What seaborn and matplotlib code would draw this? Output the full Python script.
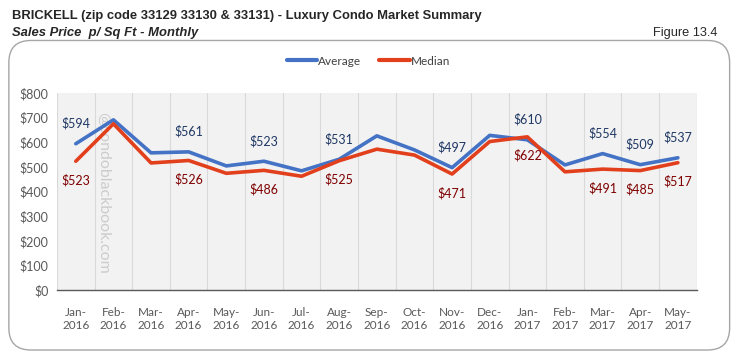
import numpy as np
import pandas as pd
import seaborn as sns
import matplotlib.pyplot as plt
from matplotlib.patches import FancyBboxPatch

months = ["Jan-\n2016", "Feb-\n2016", "Mar-\n2016", "Apr-\n2016", "May-\n2016", "Jun-\n2016",
          "Jul-\n2016", "Aug-\n2016", "Sep-\n2016", "Oct-\n2016", "Nov-\n2016", "Dec-\n2016",
          "Jan-\n2017", "Feb-\n2017", "Mar-\n2017", "Apr-\n2017", "May-\n2017"]
average = [594, 691, 557, 561, 504, 523, 484, 531, 626, 569, 497, 628, 610, 508, 554, 509, 537]
median = [523, 675, 516, 526, 474, 486, 462, 525, 572, 548, 471, 603, 622, 480, 491, 485, 517]
# months that carry a data label in the original
labelled = [0, 3, 5, 7, 10, 12, 14, 15, 16]

sns.set_theme(style="white")
plt.rcParams['font.family'] = ['Lato', 'DejaVu Sans']

df = pd.DataFrame({"idx": list(range(len(months))) * 2,
                   "value": average + median,
                   "series": ["Average"] * len(months) + ["Median"] * len(months)})

blue = "#4472c4"
red = "#e2401c"
head_font = ['Liberation Sans', 'DejaVu Sans']

fig = plt.figure(figsize=(7.37, 3.55), dpi=100)
fig.patch.set_facecolor("white")

frame = FancyBboxPatch((0.012, 0.014), 0.978, 0.872, boxstyle="round,pad=0,rounding_size=0.03",
                       transform=fig.transFigure, facecolor="white", edgecolor="#a6a6a6",
                       linewidth=1.0, mutation_aspect=737 / 355, zorder=-5)
fig.patches.append(frame)

fig.text(0.016, 0.955, "BRICKELL (zip code 33129 33130 & 33131) - Luxury Condo Market Summary",
         family=head_font, weight="bold", size=9.4, va="center")
fig.text(0.016, 0.907, "Sales Price  p/ Sq Ft - Monthly",
         family=head_font, weight="bold", style="italic", size=9.4, va="center")
fig.text(0.974, 0.907, "Figure 13.4", family=head_font, size=9.2, ha="right", va="center")

ax = fig.add_axes([0.0773, 0.183, 0.868, 0.555])
ax.set_zorder(2)
ax.set_facecolor("#f2f2f2")

sns.lineplot(data=df, x="idx", y="value", hue="series", palette=[blue, red],
             linewidth=2.6, ax=ax, legend=True)

for i in labelled:
    ax.annotate(f"${average[i]}", (i, average[i]), xytext=(0, 10), textcoords="offset points",
                ha="center", va="bottom", color="#1f3864", fontsize=9)
    ax.annotate(f"${median[i]}", (i, median[i]), xytext=(0, -9), textcoords="offset points",
                ha="center", va="top", color="#7f0000", fontsize=9)

ax.set_xlim(-0.5, len(months) - 0.5)
ax.set_ylim(0, 800)
ax.set_yticks(range(0, 801, 100))
ax.set_yticklabels([f"${v}" for v in range(0, 801, 100)])
ax.set_xticks(range(len(months)))
ax.set_xticklabels(months)
ax.set_xticks(np.arange(-0.5, len(months)), minor=True)
ax.tick_params(axis="x", which="major", length=0, pad=12, labelsize=8.5, colors="#595959")
ax.tick_params(axis="x", which="minor", length=5, width=0.8, color="#595959", direction="out")
ax.tick_params(axis="y", length=0, labelsize=9, colors="#595959", pad=6)
ax.grid(which="minor", axis="x", color="#d9d9d9", linewidth=0.8)
ax.set_axisbelow(True)
ax.set_xlabel("")
ax.set_ylabel("")
for s in ["left", "right", "top"]:
    ax.spines[s].set_visible(False)
ax.spines["bottom"].set_color("#595959")
ax.spines["bottom"].set_linewidth(1.0)

ax.text(0.72, 395, "@condoblackbook.com", rotation=270, color="#cccccc", fontsize=11.5,
        ha="center", va="center", zorder=1)

leg = ax.legend(loc="center", bbox_to_anchor=(0.5, 0.828), bbox_transform=fig.transFigure,
                ncol=2, frameon=False, fontsize=8.5, handlelength=2.6, handletextpad=0.1,
                columnspacing=1.5)
for line in leg.get_lines():
    line.set_linewidth(3)
for t in leg.get_texts():
    t.set_color("#404040")

fig.savefig("out.png", dpi=100)
